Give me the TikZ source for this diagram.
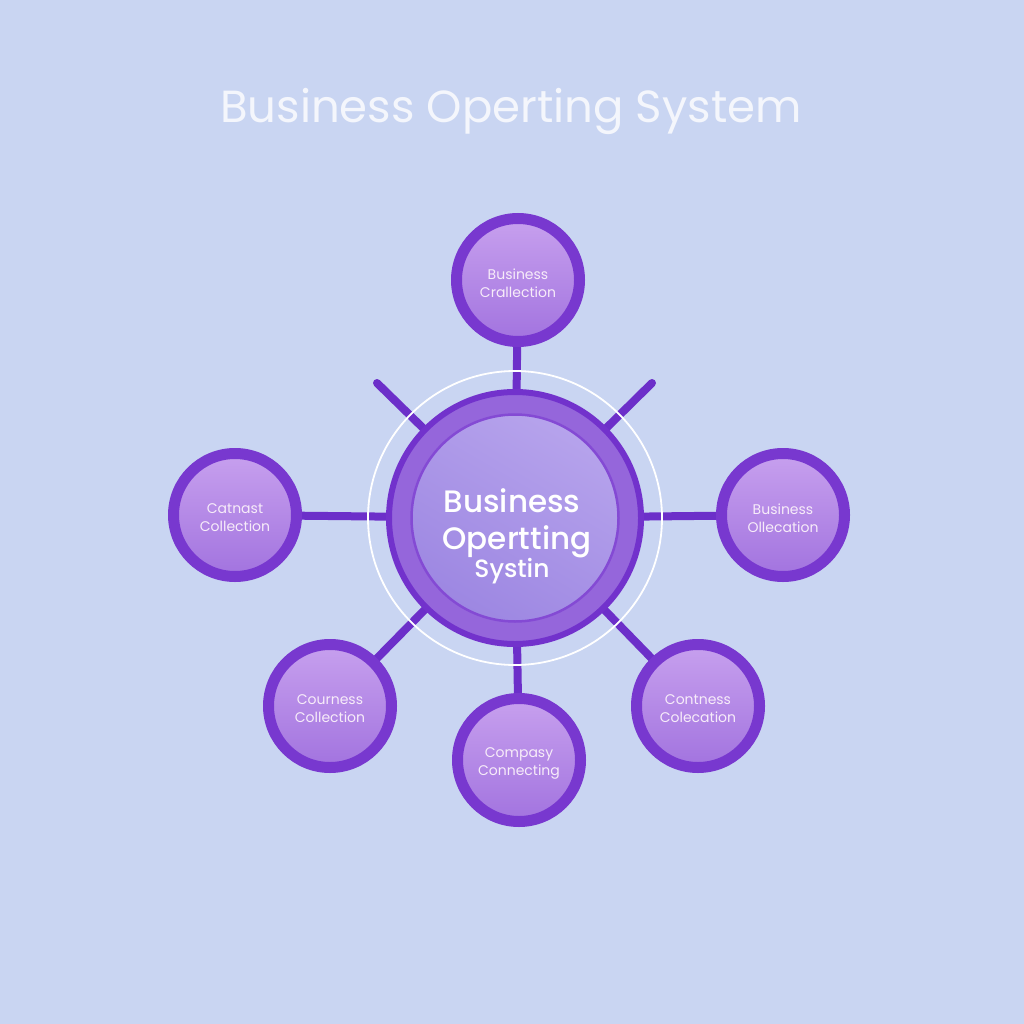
\documentclass[tikz,border=0pt]{standalone}
\usepackage{fontspec}
\setmainfont{Poppins}
\newfontfamily\pmed{Poppins Medium}
\usetikzlibrary{calc}
\definecolor{bgc}{HTML}{C9D5F2}
\definecolor{ringc}{HTML}{7838CF}
\definecolor{ringdark}{HTML}{7232CC}
\definecolor{band}{HTML}{9566DB}
\definecolor{satTop}{HTML}{C7A0EE}
\definecolor{satBot}{HTML}{A273DF}
\definecolor{cinTop}{HTML}{B6A3EC}
\definecolor{cinBot}{HTML}{9D87E2}
\definecolor{spokec}{HTML}{6C2FC9}
\definecolor{sattext}{HTML}{F7ECF9}
\definecolor{titlec}{HTML}{F4F6FC}
\pgfdeclarelayer{bglayer}
\pgfdeclarelayer{lines}
\pgfsetlayers{bglayer,lines,main}
\begin{document}
\begin{tikzpicture}[x=1pt,y=-1pt,
  sat/.style={circle, minimum size=123pt, inner sep=0pt, draw=ringc, line width=11pt,
    top color=satTop, bottom color=satBot},
  stxt/.style={align=center, text=sattext, font=\fontsize{14}{18}\selectfont, inner sep=0pt},
  spoke/.style={draw=spokec, line width=8pt},
  stub/.style={draw=spokec, line width=8pt, line cap=round},
  ctxt/.style={anchor=base, text=white, inner sep=0pt}]
\begin{pgfonlayer}{bglayer}
\fill[bgc] (0,0) rectangle (1024,1024);
\end{pgfonlayer}
\useasboundingbox (0,0) rectangle (1024,1024);

% title
\node[text=titlec, font=\fontsize{45}{50}\selectfont, anchor=base] (title) at (511,123) {Business Operting System};

% central hub
\node[circle, minimum size=294pt, inner sep=0pt, draw=white, line width=1.8pt] (halo) at (515,518) {};
\node[circle, minimum size=252pt, inner sep=0pt, draw=ringdark, line width=6pt, fill=band] (c) at (515,518) {};
\node[circle, minimum size=207pt, inner sep=0pt, draw=ringc!60!band, line width=2.5pt,
  shading=axis, top color=cinTop, bottom color=cinBot, shading angle=-30] (cin) at (515,518) {};
\node[ctxt, font=\pmed\fontsize{31}{36}\selectfont] (cl1) at (512,512) {Business};
\node[ctxt, font=\pmed\fontsize{31}{36}\selectfont] (cl2) at (517,549) {Opertting};
\node[ctxt, font=\pmed\fontsize{25}{30}\selectfont] (cl3) at (512,577) {Systin};

% satellites
\node[sat] (top) at (518,280) {};
\node[sat] (left) at (235,515) {};
\node[sat] (right) at (783,515) {};
\node[sat] (bl) at (330,706) {};
\node[sat] (bot) at (519,760) {};
\node[sat] (br) at (698,706) {};

\node[stxt] (ttop) at ($(top)+(0,3)$) {Business\\Crallection};
\node[stxt] (tleft) at ($(left)+(0,3)$) {Catnast\\Collection};
\node[stxt] (tright) at ($(right)+(0,3)$) {Business\\Ollecation};
\node[stxt] (tbl) at ($(bl)+(0,3)$) {Courness\\Collection};
\node[stxt] (tbot) at ($(bot)+(0,3)$) {Compasy\\Connecting};
\node[stxt] (tbr) at ($(br)+(0,3)$) {Contness\\Colecation};

% free ends of stubs
\coordinate (stl) at (377,383);
\coordinate (str) at (652,383);

\begin{pgfonlayer}{lines}
\draw[spoke] (c.center) -- (top.center);
\draw[spoke] (c.center) -- (left.center);
\draw[spoke] (c.center) -- (right.center);
\draw[spoke] (c.center) -- (bl.center);
\draw[spoke] (c.center) -- (bot.center);
\draw[spoke] (c.center) -- (br.center);
\draw[stub] (c.center) -- (stl);
\draw[stub] (c.center) -- (str);
\end{pgfonlayer}
\end{tikzpicture}
\end{document}
